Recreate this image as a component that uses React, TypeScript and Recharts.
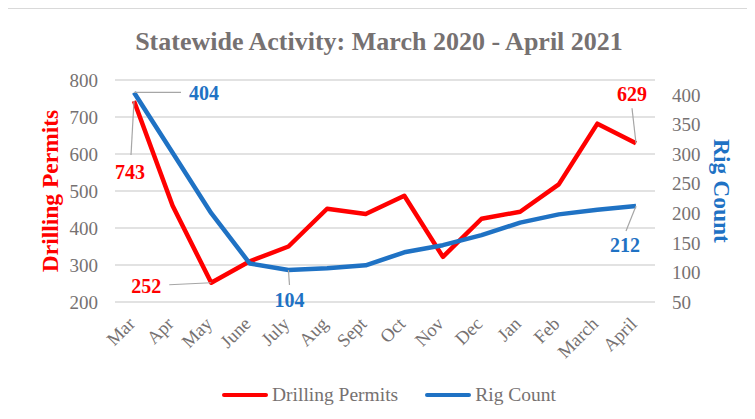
import React from 'react';
import { LineChart, Line, XAxis, YAxis, CartesianGrid } from 'recharts';

const months = ['Mar', 'Apr', 'May', 'June', 'July', 'Aug', 'Sept', 'Oct', 'Nov', 'Dec', 'Jan', 'Feb', 'March', 'April'];
const drillingPermits = [743, 460, 252, 310, 350, 452, 438, 487, 322, 425, 444, 518, 682, 629];
const rigCount = [404, 302, 200, 115, 104, 107, 112, 134, 146, 163, 184, 198, 206, 212];
const leftTicks = [200, 300, 400, 500, 600, 700, 800];
const rightTicks = [50, 100, 150, 200, 250, 300, 350, 400];

const data = months.map((m, i) => ({ month: m, permits: drillingPermits[i], rigs: rigCount[i] }));

const RED = '#FF0000';
const BLUE = '#1F72C4';
const GRAY = '#767171';
const FONT = '"Liberation Serif", "Times New Roman", serif';

// label placement (offset of text centre and leader end from the point)
const permitLabels: Record<number, { dx: number; dy: number; lx: number; ly: number }> = {
  0: { dx: -4, dy: 71, lx: -3, ly: 54 },
  2: { dx: -65, dy: 3, lx: -42, ly: 2 },
  13: { dx: -4, dy: -49, lx: -4, ly: -35 },
};
const rigLabels: Record<number, { dx: number; dy: number; lx: number; ly: number }> = {
  0: { dx: 70, dy: 1, lx: 47, ly: 0 },
  4: { dx: 1, dy: 30, lx: 1, ly: 15 },
  13: { dx: -11, dy: 39, lx: -10, ly: 25 },
};

function makeLabel(cfg: typeof permitLabels, color: string) {
  return (props: any) => {
    const { x, y, index, value } = props;
    const c = cfg[index];
    if (!c) return null;
    return (
      <g>
        <line x1={x} y1={y} x2={x + c.lx} y2={y + c.ly} stroke="#a6a6a6" strokeWidth={1.2} />
        <text x={x + c.dx} y={y + c.dy} dy={7} textAnchor="middle" fill={color}
          style={{ fontFamily: FONT, fontSize: 20, fontWeight: 'bold' }}>
          {value}
        </text>
      </g>
    );
  };
}

const XTick = (props: any) => {
  const { x, y, payload } = props;
  const px = x + 2;
  const py = y + 15;
  return (
    <text x={px} y={py} transform={`rotate(-45, ${px}, ${py})`} textAnchor="end" fill={GRAY}
      style={{ fontFamily: FONT, fontSize: 18.5 }}>
      {payload.value}
    </text>
  );
};

export default function App() {
  return (
    <div style={{ position: 'relative', margin: -8, width: 755, height: 419, overflow: 'hidden', background: '#fff' }}>
      <div style={{ position: 'absolute', left: 6, top: 7, width: 800, height: 500, border: '2px solid #d9d9d9', boxSizing: 'border-box' }} />
      <div style={{ position: 'absolute', left: 0, top: 27, width: 755, textAlign: 'center', paddingLeft: 3, boxSizing: 'border-box', fontFamily: FONT, fontSize: 26, fontWeight: 'bold', color: GRAY }}>
        Statewide Activity: March 2020 - April 2021
      </div>
      <div style={{ position: 'absolute', left: 0, top: 0 }}>
        <LineChart width={755} height={419} data={data} margin={{ top: 80, right: 40, bottom: 0, left: 55 }}>
          <CartesianGrid vertical={false} stroke="#d9d9d9" strokeWidth={1.5} yAxisId="left" />
          <XAxis dataKey="month" axisLine={false} tickLine={false} interval={0} tick={<XTick />}
            padding={{ left: 19, right: 19 }} height={117} />
          <YAxis yAxisId="left" domain={[200, 800]} ticks={leftTicks} interval={0} axisLine={false} tickLine={false}
            tickMargin={11} width={60} tick={{ fill: GRAY, fontSize: 19, fontFamily: FONT }}
            label={(p: any) => {
              const vb = p.viewBox;
              const cx = 50;
              const cy = vb.y + vb.height / 2;
              return (
                <text x={cx} y={cy} transform={`rotate(-90, ${cx}, ${cy})`} textAnchor="middle" dy={8} fill={RED}
                  style={{ fontFamily: FONT, fontSize: 23.5, fontWeight: 'bold' }}>Drilling Permits</text>
              );
            }} />
          <YAxis yAxisId="right" orientation="right" domain={[50, 425]} ticks={rightTicks} interval={0} axisLine={false}
            tickLine={false} tickMargin={11} width={60} tick={{ fill: GRAY, fontSize: 19, fontFamily: FONT }}
            label={(p: any) => {
              const vb = p.viewBox;
              const cx = 722;
              const cy = vb.y + vb.height / 2;
              return (
                <text x={cx} y={cy} transform={`rotate(90, ${cx}, ${cy})`} textAnchor="middle" dy={8} fill={BLUE}
                  style={{ fontFamily: FONT, fontSize: 23.5, fontWeight: 'bold' }}>Rig Count</text>
              );
            }} />
          <Line yAxisId="left" dataKey="permits" name="Drilling Permits" stroke={RED} strokeWidth={4.5}
            dot={false} isAnimationActive={false} strokeLinejoin="round" label={makeLabel(permitLabels, RED)} />
          <Line yAxisId="right" dataKey="rigs" name="Rig Count" stroke={BLUE} strokeWidth={4.5}
            dot={false} isAnimationActive={false} strokeLinejoin="round" label={makeLabel(rigLabels, BLUE)} />
        </LineChart>
      </div>
      <div style={{ position: 'absolute', left: 0, top: 384, width: 755, display: 'flex', alignItems: 'center', paddingLeft: 222, boxSizing: 'border-box', fontFamily: FONT, fontSize: 19.5, color: GRAY }}>
        <span style={{ display: 'inline-block', width: 46, height: 4, background: RED, borderRadius: 2, marginRight: 4 }} />
        <span>Drilling Permits</span>
        <span style={{ display: 'inline-block', width: 46, height: 4, background: BLUE, borderRadius: 2, marginLeft: 27, marginRight: 4 }} />
        <span>Rig Count</span>
      </div>
    </div>
  );
}
